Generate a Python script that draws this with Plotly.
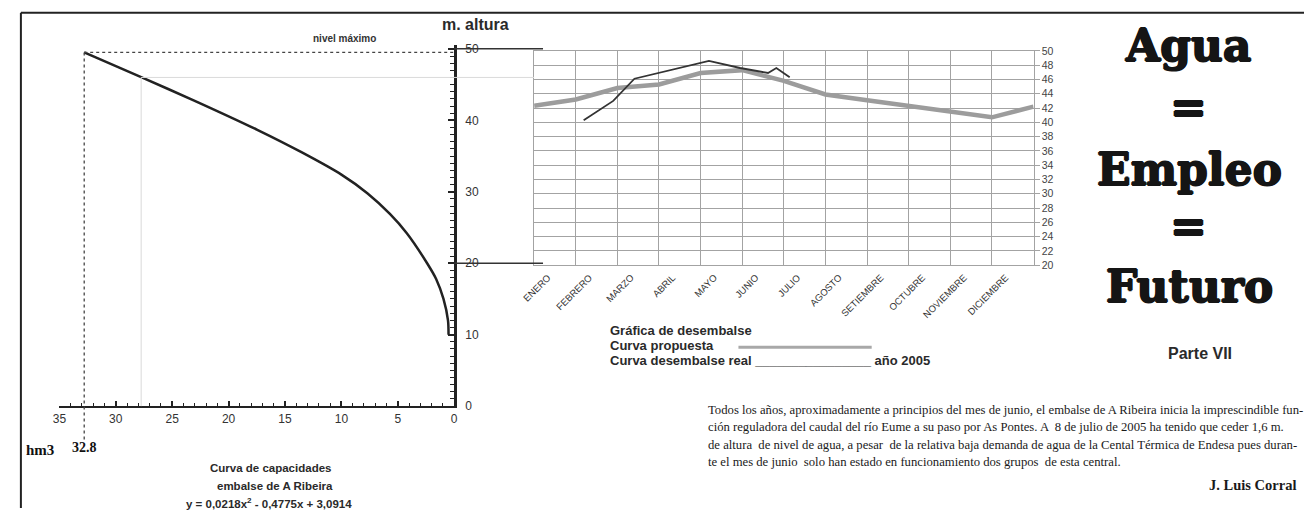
import plotly.graph_objects as go

W, H = 1308, 515

# ---------------- data ----------------
# Left chart: capacity curve of the reservoir (volume hm3 vs height m)
cap_volume = [0.5, 0.55, 0.95, 1.6, 2.4, 4.2, 5.7, 7.7, 10.0, 13.5, 17.5, 23.1, 27.7, 32.8]
cap_height = [10.0, 12.0, 15.0, 17.8, 20.0, 24.2, 26.9, 29.8, 32.4, 35.5, 38.7, 42.8, 46.0, 49.5]
max_volume = 32.8
max_level = 49.5
guide_volume = 27.75
guide_level = 46.0
link_levels = [50, 20]

# Right chart: release curves
months = ["ENERO", "FEBRERO", "MARZO", "ABRIL", "MAYO", "JUNIO", "JULIO",
          "AGOSTO", "SETIEMBRE", "OCTUBRE", "NOVIEMBRE", "DICIEMBRE"]
proposed_x = [0, 1, 2, 3, 4, 5, 6, 7, 8, 9, 10, 11, 12]
proposed = [42.3, 43.2, 44.8, 45.3, 46.9, 47.3, 45.8, 43.9, 43.1, 42.3, 41.4, 40.7, 42.2]
real_x = [1.19, 1.90, 2.41, 4.20, 4.95, 5.62, 5.82, 6.14]
real = [40.3, 43.0, 46.1, 48.6, 47.6, 46.9, 47.6, 46.3]

paragraph = [
    "Todos los años, aproximadamente a principios del mes de junio, el embalse de A Ribeira inicia la imprescindible fun-",
    "ción reguladora del caudal del río Eume a su paso por As Pontes. A  8 de julio de 2005 ha tenido que ceder 1,6 m.",
    "de altura  de nivel de agua, a pesar  de la relativa baja demanda de agua de la Cental Térmica de Endesa pues duran-",
    "te el mes de junio  solo han estado en funcionamiento dos grupos  de esta central.",
]

# ---------------- layout geometry ----------------
def px(x):
    return x / W

def py(y):
    return 1 - y / H

L_XRANGE = [35, 0]
L_XPIX = [47, 447]
L_YRANGE = [0, 50.5]
L_YPIX = [410.5, 40.3]
R_XPIX = [528, 1034]
R_YPIX = [266, 46]


def lx(v):
    f = (v - L_XRANGE[0]) / (L_XRANGE[1] - L_XRANGE[0])
    return px(L_XPIX[0] + f * (L_XPIX[1] - L_XPIX[0]))


def ly(v):
    f = (v - L_YRANGE[0]) / (L_YRANGE[1] - L_YRANGE[0])
    return py(L_YPIX[0] + f * (L_YPIX[1] - L_YPIX[0]))


INK = "#222222"
GRID = "#a3a3a3"
SANS = "Liberation Sans, Arial, sans-serif"
SERIF = "Liberation Serif, Times New Roman, serif"
SLAB = "DejaVu Serif, serif"
FAT = "0.9px 0 0 #151515, -0.9px 0 0 #151515, 0 0.6px 0 #151515, 0 -0.6px 0 #151515"

fig = go.Figure()

fig.add_trace(go.Scatter(
    x=cap_volume, y=cap_height, mode="lines",
    line=dict(color=INK, width=2.5, shape="spline", smoothing=0.8),
    xaxis="x", yaxis="y", hoverinfo="skip"))

fig.add_trace(go.Scatter(
    x=proposed_x, y=proposed, mode="lines",
    line=dict(color="#9c9c9c", width=4.5),
    xaxis="x2", yaxis="y2", hoverinfo="skip"))

fig.add_trace(go.Scatter(
    x=real_x, y=real, mode="lines",
    line=dict(color="#333333", width=1.8),
    xaxis="x2", yaxis="y2", hoverinfo="skip"))

# invisible carrier so that the month axis is drawn
fig.add_trace(go.Scatter(
    x=proposed_x, y=proposed, mode="lines", line=dict(width=0, color="rgba(0,0,0,0)"),
    xaxis="x3", yaxis="y2", hoverinfo="skip"))

shapes = []
# page frame
shapes.append(dict(type="line", xref="paper", yref="paper", x0=px(8), x1=px(8), y0=py(7), y1=py(515),
                   line=dict(color=INK, width=2)))
shapes.append(dict(type="line", xref="paper", yref="paper", x0=px(8), x1=px(1308), y0=py(7), y1=py(7),
                   line=dict(color=INK, width=2)))
# light guides
shapes.append(dict(type="line", xref="paper", yref="paper",
                   x0=lx(guide_volume), x1=lx(guide_volume), y0=ly(0), y1=ly(guide_level),
                   line=dict(color="#dadada", width=1)))
shapes.append(dict(type="line", xref="paper", yref="paper",
                   x0=lx(guide_volume), x1=px(R_XPIX[0]), y0=ly(guide_level), y1=ly(guide_level),
                   line=dict(color="#dadada", width=1)))
# max level dotted guides
shapes.append(dict(type="line", xref="paper", yref="paper",
                   x0=lx(max_volume), x1=lx(0), y0=ly(max_level), y1=ly(max_level),
                   line=dict(color="#444444", width=1.3, dash="dot")))
shapes.append(dict(type="line", xref="paper", yref="paper",
                   x0=lx(max_volume), x1=lx(max_volume), y0=ly(max_level), y1=ly(-4.8),
                   line=dict(color="#444444", width=1.3, dash="dot")))
# connectors between both charts
for lv in link_levels:
    shapes.append(dict(type="line", xref="paper", yref="paper",
                       x0=lx(0), x1=px(537), y0=ly(lv), y1=ly(lv),
                       line=dict(color="#333333", width=1.5)))
# legend sample for proposed curve
shapes.append(dict(type="line", xref="paper", yref="paper",
                   x0=px(735), x1=px(870), y0=py(350), y1=py(350),
                   line=dict(color="#a8a8a8", width=3)))

ann = []

def text(x, y, s, size, family=SANS, bold=False, color="#2a2a2a", xanchor="center", shadow=None):
    font = dict(size=size, family=family, color=color, weight="bold" if bold else "normal")
    if shadow:
        font["shadow"] = shadow
    ann.append(dict(x=px(x), y=py(y), xref="paper", yref="paper", text=s, showarrow=False,
                    xanchor=xanchor, yanchor="middle", font=font))

text(469, 19, "m. altura", 16, bold=True)
text(336, 33, "nivel máximo", 10, bold=True, color="#333333")
text(27, 456, "hm3", 15, family=SERIF, bold=True, color="#111111")
text(72, 453, "32.8", 14, family=SERIF, bold=True, color="#111111")
text(261, 474, "Curva de capacidades", 11.5, bold=True)
text(265, 492, "embalse de A Ribeira", 11.5, bold=True)
text(259, 510, "y = 0,0218x<sup>2</sup> - 0,4775x + 3,0914", 11.5, bold=True)

text(603, 333, "Gráfica de desembalse", 13, bold=True, xanchor="left")
text(603, 348, "Curva propuesta", 13, bold=True, xanchor="left")
text(603, 364, "Curva desembalse real ________________ año 2005", 13, bold=True, xanchor="left")

text(1190, 41, "Agua", 44, family=SLAB, bold=True, color="#151515", shadow=FAT)
text(1191, 104, "=", 44, family=SLAB, bold=True, color="#151515", shadow=FAT)
text(1192, 168, "Empleo", 44, family=SLAB, bold=True, color="#151515", shadow=FAT)
text(1191, 226, "=", 44, family=SLAB, bold=True, color="#151515", shadow=FAT)
text(1192, 288, "Futuro", 44, family=SLAB, bold=True, color="#151515", shadow=FAT)
text(1203, 356, "Parte VII", 16, bold=True)

for i, line in enumerate(paragraph):
    text(702, 414 + 18 * i, line, 12.7, family=SERIF, color="#1a1a1a", xanchor="left")
text(1302, 491, "J. Luis Corral", 14.5, family=SERIF, bold=True, color="#1a1a1a", xanchor="right")

fig.update_layout(
    width=W, height=H,
    margin=dict(l=0, r=0, t=0, b=0),
    paper_bgcolor="white", plot_bgcolor="rgba(0,0,0,0)",
    showlegend=False,
    shapes=shapes, annotations=ann,
    xaxis=dict(domain=[px(L_XPIX[0]), px(L_XPIX[1])], range=L_XRANGE, anchor="y",
               tickmode="linear", tick0=0, dtick=5, ticks="inside", ticklen=5, tickwidth=1.5,
               tickcolor=INK, showline=True, linecolor=INK, linewidth=2, showgrid=False,
               zeroline=False, tickfont=dict(size=12, family=SANS, color="#333333"),
               minor=dict(dtick=1, tick0=0, ticks="inside", ticklen=3, tickcolor=INK, tickwidth=1)),
    yaxis=dict(domain=[py(L_YPIX[0]), py(L_YPIX[1])], range=L_YRANGE, anchor="x", side="right",
               tickmode="linear", tick0=0, dtick=10, ticks="inside", ticklen=6, tickwidth=1.5,
               tickcolor=INK, showline=True, linecolor=INK, linewidth=2.5, showgrid=False,
               zeroline=False, ticklabelstandoff=6,
               tickfont=dict(size=12, family=SANS, color="#333333"),
               minor=dict(dtick=1, tick0=0, ticks="inside", ticklen=4, tickcolor=INK, tickwidth=1)),
    xaxis2=dict(domain=[px(R_XPIX[0]), px(R_XPIX[1])], range=[0, 12], anchor="y2",
                tickmode="linear", tick0=0, dtick=1, showticklabels=False, ticks="",
                showgrid=True, gridcolor=GRID, gridwidth=1, showline=True, linecolor=GRID,
                mirror=True, zeroline=False),
    xaxis3=dict(overlaying="x2", anchor="y2", range=[0, 12], side="bottom",
                tickmode="array", tickvals=[i + 0.33 for i in range(len(months))], ticktext=months,
                tickangle=-45, ticks="", showgrid=False, showline=False, zeroline=False,
                ticklabelstandoff=4,
                tickfont=dict(size=9.5, family=SANS, color="#333333")),
    yaxis2=dict(domain=[py(R_YPIX[0]), py(R_YPIX[1])], range=[20, 50], anchor="x2", side="right",
                tickmode="linear", tick0=20, dtick=2, ticks="outside", ticklen=5, tickcolor=GRID,
                showgrid=True, gridcolor=GRID, gridwidth=1, showline=True, linecolor=GRID,
                mirror=True, zeroline=False,
                tickfont=dict(size=10.5, family=SANS, color="#444444")),
)

fig.write_html("out.html", config={"displayModeBar": False},
               post_script="document.body.style.margin='0';document.body.style.overflow='hidden';")
